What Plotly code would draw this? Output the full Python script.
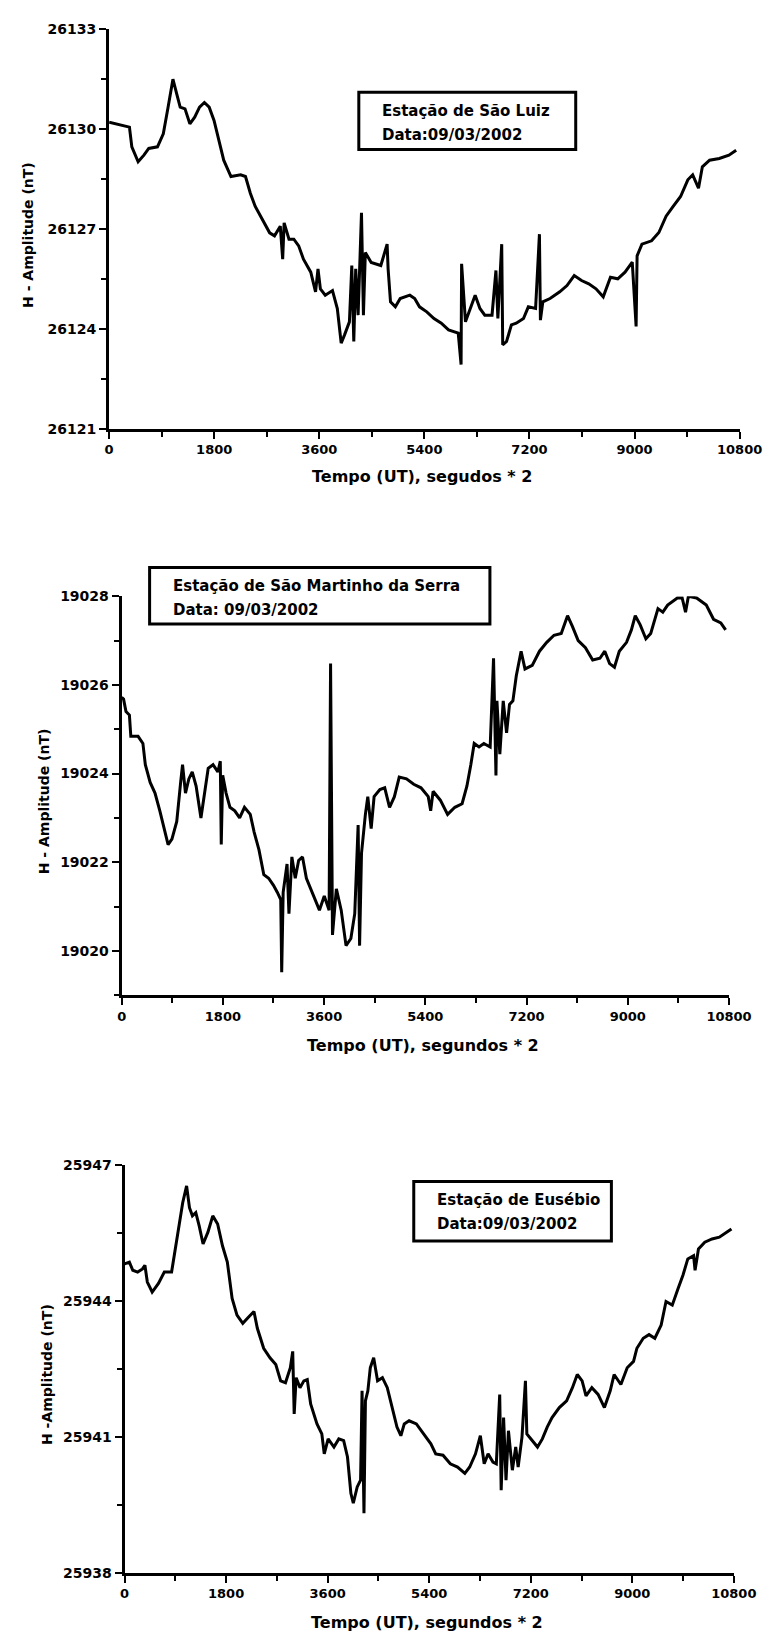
import plotly.graph_objects as go

W, H = 779, 1644

# ---- Estação de São Luiz, 09/03/2002 ----
t_sl = [0, 265, 348, 389, 497, 596, 679, 828, 928, 1010, 1093, 1159, 1217, 1300, 1383, 1466,
        1549, 1632, 1714, 1797, 1880, 1963, 2087, 2253, 2336, 2419, 2501, 2625, 2750, 2833,
        2932, 2973, 2998, 3081, 3164, 3247, 3329, 3454, 3536, 3578, 3619, 3702, 3826, 3909,
        3975, 4033, 4116, 4157, 4191, 4224, 4265, 4323, 4356, 4389, 4489, 4654, 4762, 4779,
        4820, 4903, 4986, 5151, 5234, 5317, 5441, 5565, 5690, 5814, 5980, 6029, 6038, 6104,
        6187, 6270, 6352, 6435, 6559, 6626, 6659, 6725, 6742, 6808, 6891, 6974, 7098, 7181,
        7305, 7371, 7388, 7429, 7553, 7719, 7843, 7967, 8092, 8216, 8340, 8464, 8588, 8713,
        8837, 8961, 9027, 9044, 9127, 9292, 9417, 9541, 9665, 9789, 9913, 9996, 10096, 10162,
        10286, 10452, 10617, 10741]
h_sl = [26130.20, 26130.10, 26130.05, 26129.46, 26129.01, 26129.21, 26129.41, 26129.46,
        26129.85, 26130.65, 26131.49, 26131.04, 26130.65, 26130.60, 26130.15, 26130.35,
        26130.65, 26130.79, 26130.65, 26130.25, 26129.66, 26129.06, 26128.57, 26128.62,
        26128.57, 26128.07, 26127.68, 26127.28, 26126.88, 26126.79, 26127.08, 26126.09,
        26127.18, 26126.69, 26126.69, 26126.49, 26126.09, 26125.70, 26125.11, 26125.80,
        26125.20, 26125.01, 26125.15, 26124.61, 26123.57, 26123.82, 26124.21, 26125.90,
        26123.62, 26125.80, 26124.41, 26127.48, 26124.41, 26126.29, 26125.99, 26125.90,
        26126.54, 26125.80, 26124.81, 26124.66, 26124.91, 26125.01, 26124.91, 26124.66,
        26124.51, 26124.31, 26124.17, 26123.97, 26123.87, 26122.93, 26125.95, 26124.21,
        26124.61, 26125.01, 26124.61, 26124.41, 26124.41, 26125.75, 26124.31, 26126.54,
        26123.52, 26123.62, 26124.12, 26124.17, 26124.31, 26124.66, 26124.61, 26126.84,
        26124.26, 26124.81, 26124.91, 26125.11, 26125.30, 26125.60, 26125.45, 26125.35,
        26125.20, 26124.96, 26125.55, 26125.50, 26125.70, 26126.00, 26124.07, 26126.19,
        26126.54, 26126.64, 26126.89, 26127.38, 26127.68, 26127.97, 26128.47, 26128.62,
        26128.22, 26128.86, 26129.06, 26129.11, 26129.21, 26129.36]

# ---- Estação de São Martinho da Serra, 09/03/2002 ----
t_sm = [0, 34, 77, 138, 163, 292, 378, 421, 507, 593, 679, 765, 826, 894, 980, 1049, 1083,
        1135, 1195, 1255, 1324, 1410, 1479, 1539, 1625, 1711, 1754, 1771, 1797, 1857, 1926,
        2012, 2098, 2184, 2287, 2356, 2442, 2528, 2614, 2700, 2769, 2829, 2846, 2872, 2941,
        2975, 3027, 3087, 3147, 3216, 3285, 3388, 3517, 3603, 3689, 3715, 3749, 3818, 3904,
        3990, 4076, 4145, 4179, 4205, 4231, 4265, 4334, 4377, 4437, 4489, 4592, 4678, 4764,
        4850, 4936, 5065, 5194, 5323, 5452, 5495, 5538, 5667, 5796, 5925, 6054, 6140, 6209,
        6269, 6355, 6441, 6553, 6613, 6656, 6673, 6725, 6785, 6845, 6897, 6957, 7017, 7103,
        7172, 7301, 7430, 7559, 7688, 7817, 7929, 8015, 8118, 8247, 8376, 8505, 8591, 8677,
        8763, 8849, 8978, 9064, 9133, 9219, 9322, 9408, 9537, 9623, 9709, 9881, 9967, 10027,
        10078, 10224, 10396, 10525, 10654, 10740]
h_sm = [19025.72, 19025.68, 19025.40, 19025.32, 19024.84, 19024.84, 19024.68, 19024.20,
        19023.80, 19023.56, 19023.16, 19022.68, 19022.40, 19022.52, 19022.92, 19023.80,
        19024.20, 19023.56, 19023.88, 19024.04, 19023.72, 19023.00, 19023.56, 19024.12,
        19024.20, 19024.04, 19024.28, 19022.40, 19023.96, 19023.56, 19023.24, 19023.16,
        19023.00, 19023.24, 19023.08, 19022.68, 19022.28, 19021.72, 19021.64, 19021.48,
        19021.32, 19021.16, 19019.52, 19021.32, 19021.96, 19020.84, 19022.12, 19021.64,
        19022.04, 19022.12, 19021.64, 19021.32, 19020.92, 19021.24, 19020.92, 19026.48,
        19020.36, 19021.40, 19020.92, 19020.12, 19020.28, 19020.84, 19022.04, 19022.84,
        19020.12, 19022.20, 19023.08, 19023.48, 19022.76, 19023.48, 19023.64, 19023.68,
        19023.24, 19023.48, 19023.92, 19023.88, 19023.76, 19023.68, 19023.48, 19023.16,
        19023.60, 19023.40, 19023.08, 19023.24, 19023.32, 19023.72, 19024.20, 19024.68,
        19024.60, 19024.68, 19024.60, 19026.60, 19023.96, 19025.64, 19024.44, 19025.64,
        19024.92, 19025.56, 19025.64, 19026.20, 19026.76, 19026.36, 19026.44, 19026.76,
        19026.96, 19027.12, 19027.16, 19027.56, 19027.32, 19027.00, 19026.84, 19026.56,
        19026.60, 19026.76, 19026.48, 19026.40, 19026.76, 19026.96, 19027.24, 19027.56,
        19027.36, 19027.04, 19027.16, 19027.72, 19027.64, 19027.80, 19027.96, 19027.96,
        19027.64, 19028.00, 19027.96, 19027.80, 19027.48, 19027.40, 19027.24]

# ---- Estação de Eusébio, 09/03/2002 ----
t_eu = [0, 86, 146, 232, 318, 361, 404, 490, 601, 705, 834, 894, 962, 1031, 1100, 1151, 1203,
        1263, 1323, 1392, 1478, 1564, 1650, 1736, 1822, 1907, 1993, 2096, 2208, 2294, 2354,
        2466, 2578, 2681, 2767, 2853, 2939, 2981, 3007, 3042, 3110, 3179, 3239, 3299, 3411,
        3497, 3540, 3609, 3712, 3798, 3884, 3952, 4012, 4055, 4124, 4184, 4210, 4244, 4270,
        4313, 4356, 4416, 4485, 4571, 4657, 4743, 4829, 4898, 4958, 5044, 5173, 5301, 5430,
        5516, 5645, 5774, 5903, 6032, 6118, 6221, 6307, 6375, 6444, 6530, 6590, 6650, 6676,
        6719, 6762, 6805, 6874, 6934, 6977, 7045, 7106, 7131, 7234, 7320, 7406, 7492, 7578,
        7707, 7836, 7939, 8025, 8111, 8180, 8283, 8394, 8506, 8609, 8678, 8798, 8910, 9022,
        9082, 9194, 9297, 9400, 9512, 9598, 9709, 9812, 9898, 9984, 10087, 10113, 10173,
        10285, 10414, 10543, 10672, 10758]
h_eu = [25944.81, 25944.85, 25944.67, 25944.63, 25944.70, 25944.78, 25944.41, 25944.19,
        25944.38, 25944.63, 25944.63, 25945.07, 25945.58, 25946.16, 25946.53, 25946.05,
        25945.87, 25945.94, 25945.65, 25945.25, 25945.51, 25945.87, 25945.69, 25945.21,
        25944.85, 25944.05, 25943.68, 25943.50, 25943.65, 25943.76, 25943.39, 25942.95,
        25942.74, 25942.59, 25942.23, 25942.19, 25942.52, 25942.88, 25941.50, 25942.30,
        25942.08, 25942.23, 25942.26, 25941.72, 25941.28, 25941.06, 25940.62, 25940.95,
        25940.77, 25940.95, 25940.91, 25940.55, 25939.75, 25939.53, 25939.89, 25940.04,
        25942.01, 25939.31, 25941.79, 25942.01, 25942.52, 25942.74, 25942.23, 25942.30,
        25942.08, 25941.64, 25941.21, 25941.02, 25941.28, 25941.35, 25941.28, 25941.06,
        25940.84, 25940.62, 25940.59, 25940.40, 25940.33, 25940.19, 25940.33, 25940.62,
        25941.02, 25940.40, 25940.62, 25940.44, 25940.40, 25941.93, 25939.82, 25941.42,
        25940.04, 25941.13, 25940.26, 25940.77, 25940.33, 25940.99, 25942.23, 25941.06,
        25940.91, 25940.77, 25940.95, 25941.21, 25941.42, 25941.64, 25941.79, 25942.08,
        25942.37, 25942.23, 25941.90, 25942.08, 25941.93, 25941.64, 25942.01, 25942.37,
        25942.15, 25942.52, 25942.66, 25942.95, 25943.17, 25943.25, 25943.17, 25943.46,
        25943.98, 25943.90, 25944.27, 25944.56, 25944.92, 25944.99, 25944.67, 25945.14,
        25945.29, 25945.36, 25945.40, 25945.51, 25945.58]

x_ticks = [0, 1800, 3600, 5400, 7200, 9000, 10800]
x_tick_text = ["0", "1800", "3600", "5400", "7200", "9000", "10800"]

panels = [
    dict(t=t_sl, h=h_sl, yr=[26121, 26133], y0=26121, ydt=3, ymin=1.5,
         ytitle="H - Amplitude (nT)", xtitle="Tempo (UT), segudos * 2",
         station="Estação de São Luiz", date="Data:09/03/2002",
         box=(108, 762, 21, 425), leg=(367, 592, 85, 143), xt_y=473, yt_x=24),
    dict(t=t_sm, h=h_sm, yr=[19019, 19028], y0=19020, ydt=2, ymin=1,
         ytitle="H - Amplitude (nT)", xtitle="Tempo (UT), segundos * 2",
         station="Estação de São Martinho da Serra", date="Data: 09/03/2002",
         box=(121, 751, 594, 997), leg=(150, 503, 565, 622), xt_y=1048, yt_x=40),
    dict(t=t_eu, h=h_eu, yr=[25938, 25947], y0=25938, ydt=3, ymin=1.5,
         ytitle="H -Amplitude (nT)", xtitle="Tempo (UT), segundos * 2",
         station="Estação de Eusébio", date="Data:09/03/2002",
         box=(124, 756, 1168, 1580), leg=(424, 629, 1185, 1245), xt_y=1630, yt_x=43),
]


def px(x):
    return x / W


def py(y):
    return 1 - y / H


FONT = "DejaVu Sans"
fig = go.Figure()
shapes, annotations = [], []

for i, p in enumerate(panels, start=1):
    xa, ya = f"x{'' if i == 1 else i}", f"y{'' if i == 1 else i}"
    fig.add_trace(go.Scatter(x=p["t"], y=p["h"], mode="lines",
                             line=dict(color="black", width=3),
                             xaxis=xa, yaxis=ya, showlegend=False))
    l, r, top, bot = p["box"]
    axis_common = dict(showline=True, linecolor="black", linewidth=3, mirror=False,
                       ticks="outside", tickcolor="black", tickwidth=2, ticklen=7,
                       showgrid=False, zeroline=False)
    xname = "xaxis" if i == 1 else f"xaxis{i}"
    yname = "yaxis" if i == 1 else f"yaxis{i}"
    fig.update_layout({
        xname: dict(axis_common, domain=[px(l), px(r)], range=[0, 10800],
                    tickvals=x_ticks, ticktext=x_tick_text, anchor=ya,
                    tickfont=dict(family=FONT, size=13, color="black", weight="bold"),
                    minor=dict(dtick=900, ticks="outside", ticklen=5, tickwidth=2,
                               tickcolor="black", showgrid=False)),
        yname: dict(axis_common, domain=[py(bot), py(top)], range=p["yr"],
                    tick0=p["y0"], dtick=p["ydt"], tickformat="d", anchor=xa,
                    tickfont=dict(family=FONT, size=14, color="black", weight="bold"),
                    minor=dict(dtick=p["ymin"], tick0=p["yr"][0], ticks="outside",
                               ticklen=5, tickwidth=2, tickcolor="black",
                               showgrid=False)),
    })
    # station / date box
    bl, br, bt, bb = p["leg"]
    shapes.append(dict(type="rect", xref="paper", yref="paper",
                       x0=px(bl), x1=px(br), y0=py(bb), y1=py(bt),
                       line=dict(color="black", width=3), fillcolor="white"))
    for k, txt in enumerate([p["station"], p["date"]]):
        annotations.append(dict(xref="paper", yref="paper", x=px(bl + 22),
                                y=py(bt + 19 + 24 * k),
                                xanchor="left", yanchor="middle", showarrow=False,
                                text=txt,
                                font=dict(family=FONT, size=15, color="black",
                                          weight="bold")))
    # axis titles
    annotations.append(dict(xref="paper", yref="paper", x=px((l + r) / 2 - 2),
                            y=py(p["xt_y"]), xanchor="center", yanchor="middle",
                            showarrow=False, text=p["xtitle"],
                            font=dict(family=FONT, size=16, color="black", weight="bold")))
    annotations.append(dict(xref="paper", yref="paper", x=px(p["yt_x"]),
                            y=py((top + bot) / 2 + 6), xanchor="center", yanchor="middle",
                            showarrow=False, textangle=-90, text=p["ytitle"],
                            font=dict(family=FONT, size=14, color="black", weight="bold")))

fig.update_layout(width=W, height=H, margin=dict(l=0, r=0, t=0, b=0),
                  paper_bgcolor="white", plot_bgcolor="white",
                  shapes=shapes, annotations=annotations)

fig.write_html("out.html")
